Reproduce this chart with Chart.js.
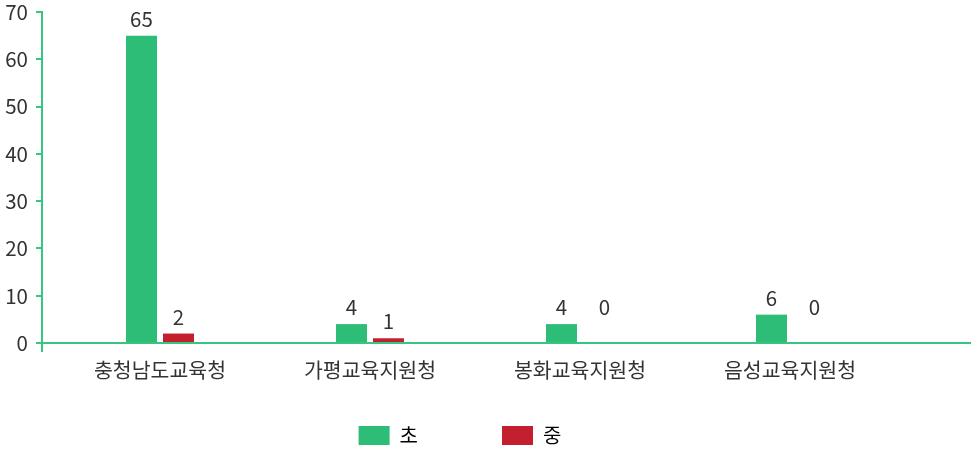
<!DOCTYPE html>
<html>
<head>
<meta charset="utf-8">
<script src="https://cdn.jsdelivr.net/npm/chart.js@4/dist/chart.umd.min.js"></script>
<style>
  html, body { margin: 0; padding: 0; background: #fff; overflow: hidden; }
  #wrap { width: 972px; height: 449px; position: relative; }
</style>
</head>
<body>
<div id="wrap"><canvas id="c"></canvas></div>
<script>
const categories = ['충청남도교육청', '가평교육지원청', '봉화교육지원청', '음성교육지원청'];
const seriesNames = ['초', '중'];
const elementary = [65, 4, 4, 6];
const middle = [2, 1, 0, 0];
const yTicks = [0, 10, 20, 30, 40, 50, 60, 70];

const GREEN = '#2ebd76';
const RED = '#c41f2f';
const AXIS = '#36c67f';
const TEXT = '#333333';
const FONT = "'Noto Sans CJK KR', 'Noto Sans', sans-serif";
const FS = 20.5;

Chart.defaults.font.family = FONT;
Chart.defaults.color = TEXT;

const toPoints = arr => arr.map((v, i) => ({ x: i, y: v }));

const valueLabels = {
  id: 'valueLabels',
  afterDatasetsDraw(chart) {
    const ctx = chart.ctx;
    const base = chart.scales.y.getPixelForValue(0);
    ctx.save();
    ctx.font = FS + 'px ' + FONT;
    ctx.fillStyle = TEXT;
    ctx.textAlign = 'center';
    ctx.textBaseline = 'alphabetic';
    chart.data.datasets.forEach((ds, di) => {
      const meta = chart.getDatasetMeta(di);
      meta.data.forEach((el, i) => {
        const v = ds.data[i].y;
        const y = v === 0 ? base - 28 : el.y - 9;
        const x = v === 0 ? el.x + 6 : el.x;
        ctx.fillText(String(v), x, y);
      });
    });
    ctx.restore();
  }
};

const axisStub = {
  id: 'axisStub',
  afterDraw(chart) {
    const ctx = chart.ctx;
    const a = chart.chartArea;
    ctx.save();
    ctx.strokeStyle = AXIS;
    ctx.lineWidth = 2;
    ctx.beginPath();
    ctx.moveTo(a.left, a.bottom);
    ctx.lineTo(a.left, a.bottom + 9);
    ctx.stroke();
    ctx.restore();
  }
};

new Chart(document.getElementById('c'), {
  type: 'bar',
  data: {
    datasets: [
      { label: seriesNames[0], data: toPoints(elementary), backgroundColor: GREEN, borderWidth: 0 },
      { label: seriesNames[1], data: toPoints(middle), backgroundColor: RED, borderWidth: 0 }
    ]
  },
  options: {
    responsive: true,
    maintainAspectRatio: false,
    animation: false,
    categoryPercentage: 0.3524,
    barPercentage: 0.8378,
    layout: { padding: { top: 0, left: 0, right: 2, bottom: -6.5 } },
    plugins: {
      tooltip: { enabled: false },
      legend: {
        position: 'bottom',
        labels: {
          boxWidth: 31,
          boxHeight: 19,
          padding: 24,
          color: TEXT,
          font: { size: 20, family: FONT },
          generateLabels(chart) {
            const pads = ['\u3000\u3000\u3000', '\u3000\u3000\u2002'];
            return chart.data.datasets.map((ds, i) => ({
              text: ds.label + pads[i],
              fillStyle: ds.backgroundColor,
              strokeStyle: ds.backgroundColor,
              lineWidth: 0,
              hidden: false,
              datasetIndex: i
            }));
          }
        }
      }
    },
    scales: {
      x: {
        type: 'linear',
        offset: false,
        min: -118 / 210,
        max: 810 / 210,
        afterBuildTicks(scale) {
          scale.ticks = categories.map((c, i) => ({ value: i }));
        },
        afterFit(scale) { scale.height = 58.5; },
        grid: { display: false, drawTicks: false },
        border: { display: true, color: AXIS, width: 2 },
        ticks: {
          autoSkip: false,
          maxRotation: 0,
          padding: 15,
          color: TEXT,
          font: { size: FS, family: FONT },
          callback: v => categories[v] ?? ''
        }
      },
      y: {
        min: 0,
        max: 70,
        afterBuildTicks(scale) {
          scale.ticks = yTicks.map(v => ({ value: v }));
        },
        afterFit(scale) { scale.width = 42; },
        grid: { drawOnChartArea: false, drawTicks: true, tickLength: 6, color: AXIS, lineWidth: 2 },
        border: { display: true, color: AXIS, width: 2 },
        ticks: {
          padding: 8,
          color: TEXT,
          font: { size: FS, family: FONT, lineHeight: 0.39 }
        }
      }
    }
  },
  plugins: [valueLabels, axisStub]
});
</script>
</body>
</html>
